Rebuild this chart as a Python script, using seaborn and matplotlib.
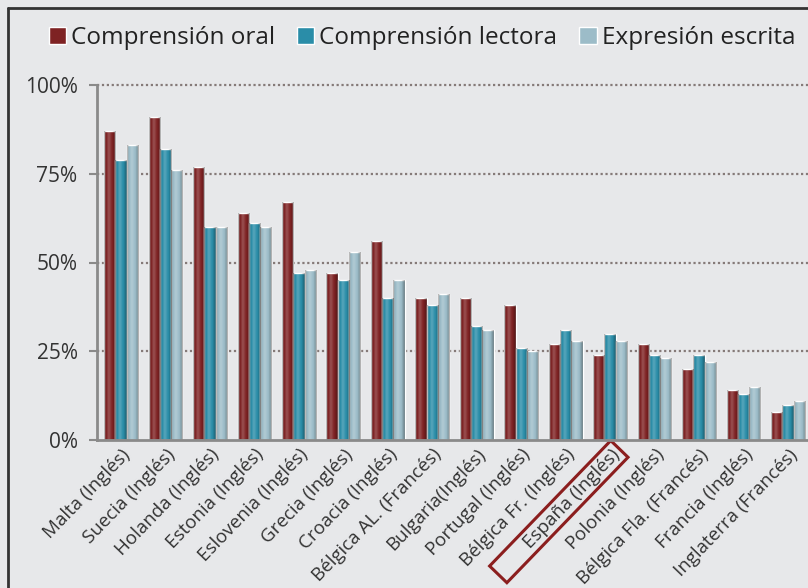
import matplotlib
matplotlib.use("Agg")
import numpy as np
import matplotlib.pyplot as plt
from matplotlib.path import Path
from matplotlib.lines import Line2D
from matplotlib.ticker import FuncFormatter
import pandas as pd
import seaborn as sns

paises = [
    "Malta (Inglés)", "Suecia (Inglés)", "Holanda (Inglés)", "Estonia (Inglés)",
    "Eslovenia (Inglés)", "Grecia (Inglés)", "Croacia (Inglés)",
    "Bélgica AL. (Francés)", "Bulgaria(Inglés)", "Portugal (Inglés)",
    "Bélgica Fr. (Inglés)", "España (Inglés)", "Polonia (Inglés)",
    "Bélgica Fla. (Francés)", "Francia (Inglés)", "Inglaterra (Francés)",
]
habilidades = ["Comprensión oral", "Comprensión lectora", "Expresión escrita"]
comprension_oral = [87, 91, 77, 64, 67, 47, 56, 40, 40, 38, 27, 24, 27, 20, 14, 8]
comprension_lectora = [79, 82, 60, 61, 47, 45, 40, 38, 32, 26, 31, 30, 24, 24, 13, 10]
expresion_escrita = [83, 76, 60, 60, 48, 53, 45, 41, 31, 25, 28, 28, 23, 22, 15, 11]
yticks = [0, 25, 50, 75, 100]
destacado = "España (Inglés)"

df = pd.DataFrame({
    "pais": paises * 3,
    "habilidad": [h for h in habilidades for _ in paises],
    "valor": comprension_oral + comprension_lectora + expresion_escrita,
})

bg = "#E7E8EA"
colores = ["#7E2223", "#2A8DA8", "#9CBCC8"]

sns.set_theme(style="white")
plt.rcParams["font.family"] = ["Open Sans", "DejaVu Sans"]

fig = plt.figure(figsize=(8.08, 5.88), dpi=100, facecolor=bg)
ax = fig.add_axes([97 / 808, 1 - 440 / 588, 711 / 808, 355 / 588])
ax.set_facecolor(bg)

sns.barplot(data=df, x="pais", y="valor", hue="habilidad", order=paises,
            hue_order=habilidades, palette=colores, width=0.76, ax=ax,
            errorbar=None, saturation=1, legend=True)

# cylindrical shading laid over every bar
perfil = np.interp(np.linspace(0, 1, 64), [0, 0.15, 0.4, 0.75, 1.0],
                   [-0.35, -0.05, 0.22, -0.05, -0.35])
sombra = np.zeros((1, 64, 4))
sombra[0, :, :3] = (perfil > 0)[:, None] * 1.0
sombra[0, :, 3] = np.abs(perfil)
for barra in list(ax.patches):
    x0, y0 = barra.get_x(), barra.get_y()
    w, h = barra.get_width(), barra.get_height()
    if h <= 0:
        continue
    im = ax.imshow(sombra, extent=[x0, x0 + w, y0, y0 + h], aspect="auto",
                   interpolation="bilinear", zorder=barra.get_zorder() + 0.1)
    im.set_clip_path(barra)
ax.set_xlim(-0.54, 15.45)
ax.set_ylim(0, 100)

ax.set_yticks(yticks)
ax.yaxis.set_major_formatter(FuncFormatter(lambda v, _: f"{v:.0f}%"))
ax.set_xlabel("")
ax.set_ylabel("")

for y in yticks[1:]:
    ax.axhline(y, color="#857a78", lw=1.6, ls=(0, (1, 1.2)), zorder=0,
               clip_on=False)

for s in ["top", "right"]:
    ax.spines[s].set_visible(False)
for s in ["left", "bottom"]:
    ax.spines[s].set_color("#8a8a8a")
    ax.spines[s].set_linewidth(2)

ax.tick_params(axis="y", length=6, width=1.5, color="#8a8a8a", labelsize=15,
               labelcolor="#333333", pad=8, left=True)
ax.tick_params(axis="x", length=0, labelsize=13.5, labelcolor="#333333", pad=4)
ax.set_xticks(range(len(paises)))
ax.set_xticklabels(paises, rotation=46, ha="right", rotation_mode="anchor")


def caja_larga(x0, y0, width, height, mutation_size):
    """Rectangle around a label, reaching well past its start."""
    izq, der, ver = 40, 4, 3
    xs = [x0 - izq, x0 + width + der, x0 + width + der, x0 - izq, x0 - izq]
    ys = [y0 - ver, y0 - ver, y0 + height + ver, y0 + height + ver, y0 - ver]
    return Path(np.column_stack([xs, ys]), closed=True)


for etiqueta in ax.get_xticklabels():
    if etiqueta.get_text() == destacado:
        etiqueta.set_bbox(dict(boxstyle=caja_larga, fc="none", ec="#8B1E1E",
                               lw=2.2))

leg = ax.get_legend()
handles = leg.legend_handles
leg.remove()
fig.legend(handles, habilidades, loc="center", bbox_to_anchor=(0.522, 0.935),
           ncol=3, frameon=False, fontsize=17.5, handlelength=0.72,
           handleheight=0.72, handletextpad=0.2, columnspacing=0.9,
           labelcolor="#222222")

# outer border of the panel
fig.add_artist(Line2D([8 / 808, 8 / 808], [0, 1 - 8 / 588], color="#333333", lw=2))
fig.add_artist(Line2D([8 / 808, 1], [1 - 8 / 588, 1 - 8 / 588], color="#333333", lw=2))

fig.savefig("out.png", dpi=100, facecolor=bg)
